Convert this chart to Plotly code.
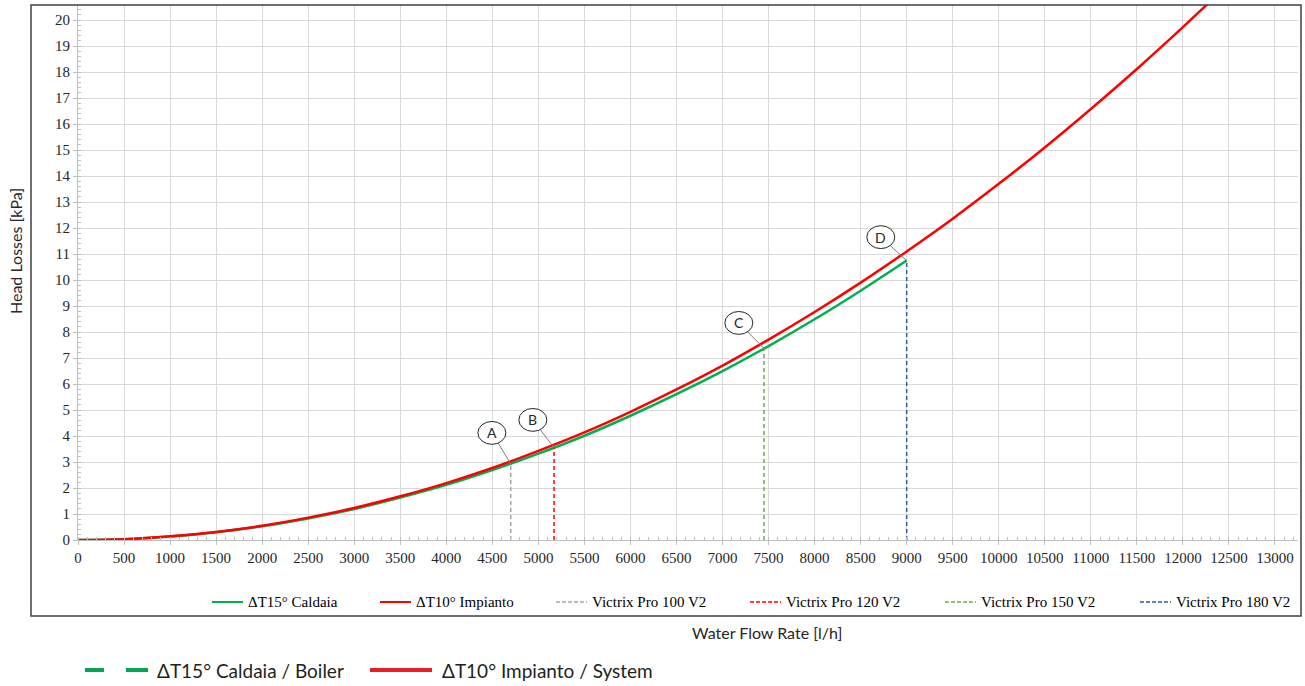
import plotly.graph_objects as go

# water flow rate [l/h] and head losses [kPa]
flow = [0, 500, 1000, 1500, 2000, 2500, 3000, 3500, 4000, 4500, 5000, 5500, 6000,
        6500, 7000, 7500, 8000, 8500, 9000, 9500, 10000, 10500, 11000, 11500,
        12000, 12500]
head_system = [0, 0.03, 0.14, 0.31, 0.55, 0.86, 1.23, 1.68, 2.19, 2.77, 3.43, 4.14,
               4.93, 5.79, 6.71, 7.71, 8.77, 9.90, 11.10, 12.36, 13.70, 15.10,
               16.58, 18.12, 19.73, 21.40]
flow_boiler = flow[:19]
head_boiler = [0, 0.03, 0.13, 0.30, 0.53, 0.83, 1.19, 1.63, 2.12, 2.69, 3.32, 4.01,
               4.78, 5.61, 6.50, 7.46, 8.49, 9.59, 10.75]

models = ["Victrix Pro 100 V2", "Victrix Pro 120 V2", "Victrix Pro 150 V2",
          "Victrix Pro 180 V2"]
model_flow = [4700, 5170, 7450, 9000]
model_head = [2.93, 3.55, 7.37, 10.75]
letters = ["A", "B", "C", "D"]

model_colors = ["#a6a6a6", "#ff0000", "#70ad47", "#2f5f98"]
# callout bubble centres (data units)
bubble_x = [4495, 4940, 7177, 8719]
bubble_y = [4.12, 4.62, 8.35, 11.65]
bw, bh = 152, 0.44

serif = "Liberation Serif"
sans = "Lato"
W, H = 1305, 686
L, R, T, B = 78, 7, 5, 146
pw, ph = W - L - R, H - T - B


def px(x):
    return (x - L) / pw


def py(y):
    return (H - B - y) / ph


fig = go.Figure()
fig.add_trace(go.Scatter(x=flow_boiler, y=head_boiler, mode="lines", name="ΔT15° Caldaia",
                         line=dict(color="#00b050", width=2.5, shape="spline")))
fig.add_trace(go.Scatter(x=flow, y=head_system, mode="lines", name="ΔT10° Impianto",
                         line=dict(color="#ff0000", width=2.5, shape="spline")))
for name, fx, hy, col in zip(models, model_flow, model_head, model_colors):
    fig.add_trace(go.Scatter(x=[fx, fx], y=[0, hy], mode="lines", name=name,
                             line=dict(color=col, width=1.5, dash="4px,3px")))

shapes = []
annotations = []
for let, bx, by, fx, hy in zip(letters, bubble_x, bubble_y, model_flow, model_head):
    # leader from bubble edge to the curve point
    dx = (fx - bx) / bw
    dy = (hy - by) / bh
    d = (dx ** 2 + dy ** 2) ** 0.5
    shapes.append(dict(type="line", xref="x", yref="y", x0=bx + bw * dx / d,
                       y0=by + bh * dy / d, x1=fx, y1=hy,
                       line=dict(color="#7f7f7f", width=1)))
    shapes.append(dict(type="circle", xref="x", yref="y", x0=bx - bw, x1=bx + bw,
                       y0=by - bh, y1=by + bh, fillcolor="white",
                       line=dict(color="#262626", width=1)))
    annotations.append(dict(x=bx, y=by, xref="x", yref="y", text=let, showarrow=False,
                            font=dict(family=sans, size=14, color="#262626")))

# in-frame legend, drawn by hand to match the spacing
legend_names = ["ΔT15° Caldaia", "ΔT10° Impianto"] + models
legend_colors = ["#00b050", "#ff0000"] + model_colors
legend_dash = ["solid", "solid"] + ["4px,2px"] * 4
legend_x = [212, 380, 556, 750, 945, 1140]
for name, col, dash, lx in zip(legend_names, legend_colors, legend_dash, legend_x):
    shapes.append(dict(type="line", xref="paper", yref="paper", x0=px(lx), x1=px(lx + 31),
                       y0=py(602), y1=py(602),
                       line=dict(color=col, width=2 if dash == "solid" else 1.5, dash=dash)))
    annotations.append(dict(x=px(lx + 34), y=py(602), xref="paper", yref="paper",
                            xanchor="left", yanchor="middle", text=name, showarrow=False,
                            font=dict(family=serif, size=15, color="#000000")))

# chart frame
shapes.append(dict(type="rect", xref="paper", yref="paper", x0=px(31), x1=px(1301),
                   y0=py(616), y1=py(5), line=dict(color="#404040", width=1.5)))
# bottom key
for x0, x1 in [(85, 104), (126, 148)]:
    shapes.append(dict(type="line", xref="paper", yref="paper", x0=px(x0), x1=px(x1),
                       y0=py(670), y1=py(670), line=dict(color="#00a651", width=4)))
shapes.append(dict(type="line", xref="paper", yref="paper", x0=px(370), x1=px(432),
                   y0=py(670), y1=py(670), line=dict(color="#ed1c24", width=4)))
annotations.append(dict(x=px(155), y=py(670), xref="paper", yref="paper", xanchor="left",
                        yanchor="middle", text="ΔT15° Caldaia / Boiler", showarrow=False,
                        font=dict(family=sans, size=19, color="#231f20")))
annotations.append(dict(x=px(440), y=py(670), xref="paper", yref="paper", xanchor="left",
                        yanchor="middle", text="ΔT10° Impianto / System", showarrow=False,
                        font=dict(family=sans, size=19, color="#231f20")))
# axis titles
annotations.append(dict(x=px(767), y=py(632), xref="paper", yref="paper",
                        xanchor="center", yanchor="middle",
                        text="Water Flow Rate [l/h]", showarrow=False,
                        font=dict(family=sans, size=16, color="#262626")))
annotations.append(dict(x=px(16), y=py(251), xref="paper", yref="paper", textangle=-90,
                        xanchor="center", yanchor="middle",
                        text="Head Losses [kPa]", showarrow=False,
                        font=dict(family=sans, size=16, color="#262626")))

fig.update_layout(
    width=W, height=H,
    margin=dict(l=L, r=R, t=T, b=B),
    plot_bgcolor="white", paper_bgcolor="white",
    shapes=shapes, annotations=annotations,
    showlegend=False,
    xaxis=dict(range=[0, 13250], dtick=500, tick0=0, tickformat="d", showgrid=True,
               gridcolor="#d9d9d9", gridwidth=1, zeroline=False,
               showline=True, linecolor="#bfbfbf", linewidth=1,
               ticks="outside", ticklen=4, tickcolor="#bfbfbf",
               minor=dict(dtick=100, ticks="inside", ticklen=3, tickcolor="#bfbfbf",
                          showgrid=False),
               tickfont=dict(family=serif, size=15, color="#262626")),
    yaxis=dict(range=[0, 20.58], dtick=1, tick0=0, tickformat="d", showgrid=True,
               gridcolor="#d9d9d9", gridwidth=1, zeroline=False,
               showline=True, linecolor="#bfbfbf", linewidth=1,
               ticks="outside", ticklen=4, tickcolor="#bfbfbf",
               minor=dict(dtick=0.2, ticks="inside", ticklen=3, tickcolor="#bfbfbf",
                          showgrid=False),
               tickfont=dict(family=serif, size=15, color="#262626")),
)

fig.write_html("out.html", config={"displayModeBar": False},
               post_script="document.body.style.margin='0';")
